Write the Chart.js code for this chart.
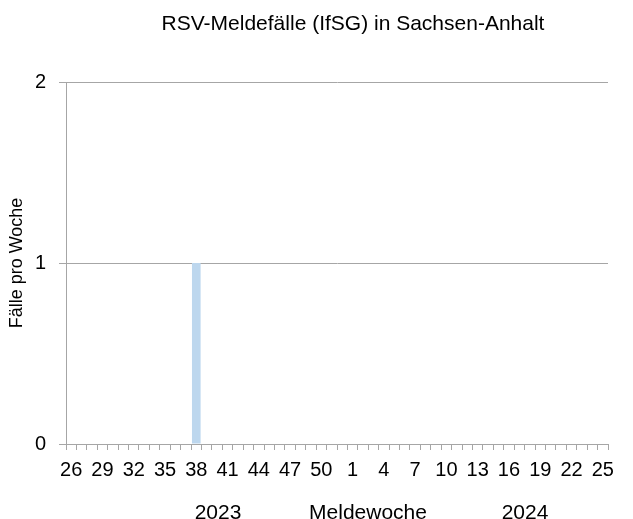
<!DOCTYPE html>
<html>
<head>
<meta charset="utf-8">
<script src="https://cdn.jsdelivr.net/npm/chart.js@4/dist/chart.umd.min.js"></script>
<style>
  html, body { margin: 0; padding: 0; background: #fff; }
  #wrap { width: 633px; height: 519px; position: relative; }
</style>
</head>
<body>
<div id="wrap"><canvas id="rsvChart"></canvas></div>
<script>
// Meldewochen 26/2023 bis 25/2024
const weeks2023 = [26, 27, 28, 29, 30, 31, 32, 33, 34, 35, 36, 37, 38, 39, 40, 41, 42, 43, 44, 45, 46, 47, 48, 49, 50, 51, 52];
const weeks2024 = [1, 2, 3, 4, 5, 6, 7, 8, 9, 10, 11, 12, 13, 14, 15, 16, 17, 18, 19, 20, 21, 22, 23, 24, 25];
const weekLabels = weeks2023.concat(weeks2024).map(String);
const cases = [0, 0, 0, 0, 0, 0, 0, 0, 0, 0, 0, 0, 1, 0, 0, 0, 0, 0, 0, 0, 0, 0, 0, 0, 0, 0, 0,
               0, 0, 0, 0, 0, 0, 0, 0, 0, 0, 0, 0, 0, 0, 0, 0, 0, 0, 0, 0, 0, 0, 0, 0, 0];
const yTicks = [0, 1, 2];

document.addEventListener('DOMContentLoaded', function() {
    const ctx = document.getElementById('rsvChart').getContext('2d');
    const font = "'Liberation Sans', Arial, sans-serif";

    // Titel und Jahresbeschriftungen
    const extraText = {
        id: 'extraText',
        afterDraw(chart) {
            const c = chart.ctx;
            c.save();
            c.fillStyle = '#000';
            c.textAlign = 'center';
            c.textBaseline = 'middle';
            c.font = '21px ' + font;
            c.fillText('RSV-Meldefälle (IfSG) in Sachsen-Anhalt', 353, 24);
            c.fillText('2023', 218, 513);
            c.fillText('Meldewoche', 368, 513);
            c.fillText('2024', 525, 513);
            c.restore();
        }
    };

    new Chart(ctx, {
        type: 'bar',
        data: {
            labels: weekLabels,
            datasets: [{
                label: 'Fälle',
                data: cases,
                backgroundColor: '#bdd7ee',
                borderWidth: 0,
                barPercentage: 0.9,
                categoryPercentage: 0.92
            }]
        },
        options: {
            responsive: true,
            maintainAspectRatio: false,
            animation: false,
            layout: {
                padding: { left: 0, right: 25, top: 82, bottom: 0 }
            },
            plugins: {
                legend: { display: false },
                tooltip: { enabled: false }
            },
            scales: {
                x: {
                    afterFit: function(scale) { scale.height = 75; },
                    grid: {
                        offset: true,
                        drawOnChartArea: false,
                        color: '#a6a6a6',
                        tickLength: 6
                    },
                    border: { color: '#a6a6a6', width: 1 },
                    ticks: {
                        autoSkip: false,
                        maxRotation: 0,
                        padding: 8,
                        color: '#000',
                        font: { size: 20, family: font },
                        callback: function(value, index) {
                            return index % 3 === 0 ? weekLabels[index] : '';
                        }
                    }
                },
                y: {
                    min: 0,
                    max: 2,
                    afterFit: function(scale) { scale.width = 66; },
                    afterBuildTicks: function(scale) {
                        scale.ticks = yTicks.map(v => ({ value: v }));
                    },
                    grid: {
                        color: '#a6a6a6',
                        tickLength: 7
                    },
                    border: { color: '#a6a6a6', width: 1 },
                    title: {
                        display: true,
                        text: 'Fälle pro Woche',
                        color: '#000',
                        font: { size: 18, family: font },
                        padding: { top: 6, bottom: 0 }
                    },
                    ticks: {
                        padding: 13,
                        color: '#000',
                        font: { size: 20, family: font }
                    }
                }
            }
        },
        plugins: [extraText]
    });
});
</script>
</body>
</html>
